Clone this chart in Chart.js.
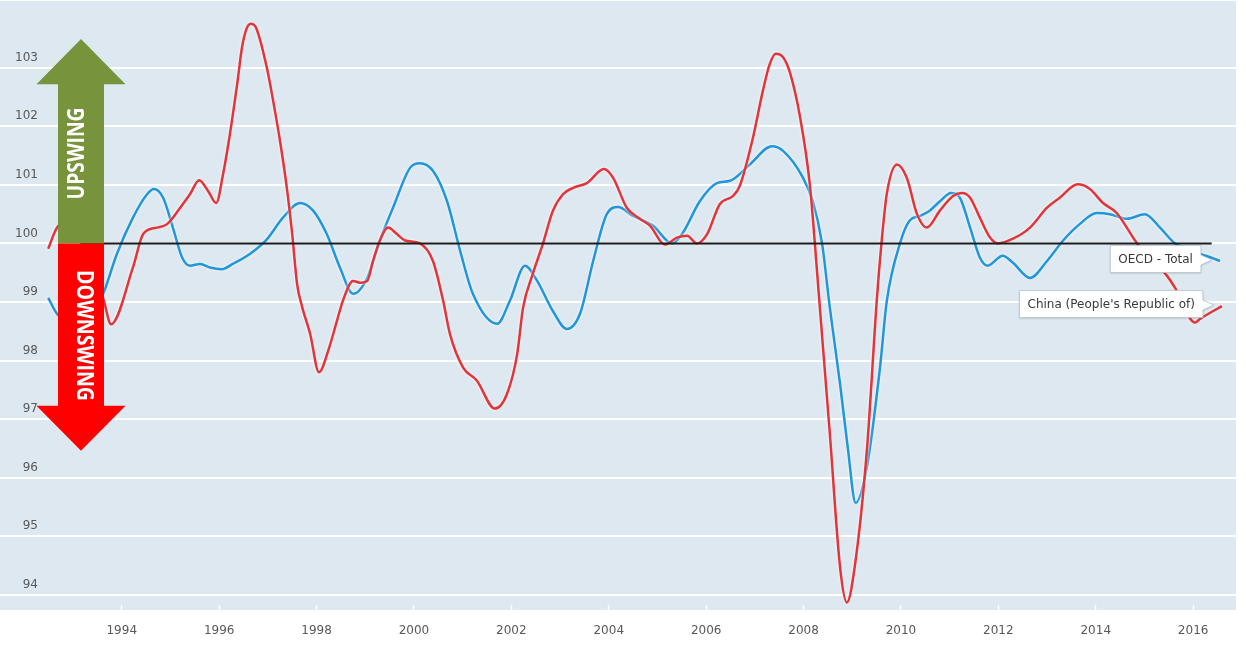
<!DOCTYPE html>
<html>
<head>
<meta charset="utf-8">
<title>Composite leading indicators - OECD vs China</title>
<script src="https://cdn.jsdelivr.net/npm/chart.js@4.4.1/dist/chart.umd.min.js"></script>
<style>
  html, body { margin: 0; padding: 0; background: #fff; }
  #wrap { position: relative; width: 1246px; height: 645px; }
</style>
</head>
<body>
<div id="wrap"><canvas id="cli"></canvas></div>
<script>
/* ---------- data ---------- */
const chinaYears = [1992.49, 1992.67, 1993.0, 1993.4, 1993.64, 1993.78, 1994.23, 1994.44, 1994.72, 1994.93,
  1995.20, 1995.40, 1995.59, 1995.77, 1995.94, 1996.08, 1996.22, 1996.37, 1996.47, 1996.56,
  1996.65, 1996.76, 1996.98, 1997.11, 1997.25, 1997.39, 1997.50, 1997.60, 1997.70, 1997.87,
  1998.05, 1998.24, 1998.42, 1998.54, 1998.75, 1998.89, 1999.04, 1999.16, 1999.30, 1999.47,
  1999.65, 1999.82, 2000.12, 2000.39, 2000.60, 2000.74, 2001.01, 2001.29, 2001.66, 2001.91,
  2002.12, 2002.24, 2002.44, 2002.65, 2002.85, 2003.06, 2003.27, 2003.55, 2003.90, 2004.09,
  2004.37, 2004.64, 2004.85, 2005.15, 2005.40, 2005.61, 2005.81, 2006.02, 2006.28, 2006.55,
  2006.69, 2006.96, 2007.15, 2007.30, 2007.43, 2007.58, 2007.72, 2007.93, 2008.13, 2008.27,
  2008.34, 2008.54, 2008.75, 2008.89, 2009.05, 2009.30, 2009.51, 2009.60, 2009.71, 2009.92,
  2010.12, 2010.33, 2010.53, 2010.80, 2011.07, 2011.25, 2011.42, 2011.62, 2011.83, 2011.99,
  2012.30, 2012.65, 2013.00, 2013.26, 2013.63, 2013.88, 2014.15, 2014.43, 2014.85, 2015.46,
  2015.63, 2016.04, 2016.14, 2016.59];
const chinaValues = [99.91, 100.27, 100.45, 99.7, 99.0, 98.62, 99.59, 100.16, 100.27, 100.33,
  100.61, 100.84, 101.08, 100.9, 100.69, 101.18, 101.86, 102.72, 103.35, 103.66,
  103.75, 103.68, 103.0, 102.43, 101.75, 100.95, 100.16, 99.31, 98.93, 98.45,
  97.8, 98.17, 98.68, 99.02, 99.36, 99.33, 99.36, 99.7, 100.05, 100.27,
  100.16, 100.05, 100.0, 99.7, 99.02, 98.45, 97.88, 97.66, 97.18, 97.43,
  98.11, 98.9, 99.48, 100.0, 100.55, 100.84, 100.95, 101.03, 101.27, 101.12,
  100.61, 100.42, 100.3, 99.98, 100.1, 100.13, 100.0, 100.16, 100.67, 100.81,
  100.98, 101.8, 102.55, 103.05, 103.24, 103.18, 102.92, 102.15, 101.0, 99.6,
  98.85, 96.75, 94.47, 93.87, 94.47, 96.46, 99.1, 100.0, 100.85, 101.35,
  101.12, 100.5, 100.27, 100.56, 100.81, 100.86, 100.78, 100.44, 100.1, 100.0,
  100.08, 100.27, 100.61, 100.78, 101.01, 100.93, 100.69, 100.52, 100.0, 99.45,
  99.24, 98.65, 98.71, 98.93];

const oecdYears = [1992.49, 1992.67, 1993.1, 1993.35, 1993.62, 1993.90, 1994.23, 1994.52, 1994.66, 1994.85,
  1995.05, 1995.24, 1995.40, 1995.61, 1995.81, 1996.06, 1996.28, 1996.63, 1996.98, 1997.31,
  1997.66, 1997.93, 1998.21, 1998.48, 1998.75, 1999.04, 1999.30, 1999.57, 1999.92, 2000.12,
  2000.39, 2000.68, 2000.95, 2001.21, 2001.71, 2001.97, 2002.28, 2002.53, 2002.85, 2003.14,
  2003.41, 2003.68, 2003.96, 2004.19, 2004.50, 2004.91, 2005.30, 2005.52, 2005.87, 2006.22,
  2006.49, 2006.90, 2007.35, 2007.58, 2007.99, 2008.19, 2008.38, 2008.54, 2008.75, 2008.91,
  2009.07, 2009.30, 2009.57, 2009.71, 2009.98, 2010.18, 2010.39, 2010.59, 2010.80, 2011.03,
  2011.21, 2011.42, 2011.62, 2011.78, 2012.09, 2012.30, 2012.65, 2013.00, 2013.33, 2013.67,
  2014.02, 2014.29, 2014.64, 2015.01, 2015.32, 2015.63, 2016.40, 2016.55];
const oecdValues = [99.07, 98.8, 98.55, 98.7, 99.14, 99.82, 100.44, 100.84, 100.93, 100.78,
  100.27, 99.76, 99.62, 99.65, 99.59, 99.56, 99.65, 99.82, 100.07, 100.44,
  100.69, 100.56, 100.16, 99.59, 99.14, 99.41, 100.05, 100.61, 101.29, 101.37,
  101.24, 100.72, 99.87, 99.14, 98.63, 99.02, 99.62, 99.36, 98.85, 98.54,
  98.8, 99.7, 100.5, 100.62, 100.47, 100.3, 100.0, 100.18, 100.72, 101.03,
  101.07, 101.35, 101.66, 101.58, 101.12, 100.72, 100.0, 98.9, 97.6, 96.5,
  95.57, 96.18, 97.88, 99.02, 100.0, 100.39, 100.47, 100.56, 100.72, 100.86,
  100.78, 100.27, 99.76, 99.62, 99.79, 99.67, 99.41, 99.7, 100.05, 100.33,
  100.52, 100.5, 100.42, 100.5, 100.27, 100.0, 99.75, 99.7];

const baselineYears = [1993.15, 2016.38];
const baselineValues = [100, 100];

const yearTicks = [1994, 1996, 1998, 2000, 2002, 2004, 2006, 2008, 2010, 2012, 2014, 2016];
const valueTicks = [94, 95, 96, 97, 98, 99, 100, 101, 102, 103];

const chinaName = "China (People's Republic of)";
const oecdName = "OECD - Total";

function toPoints(xs, ys) {
  return xs.map((x, i) => ({ x: x, y: ys[i] }));
}

/* ---------- plugins ---------- */
const plotBackground = {
  id: "plotBackground",
  beforeDraw(chart) {
    const { ctx, chartArea: a } = chart;
    ctx.save();
    ctx.fillStyle = "#dde8f0";
    ctx.fillRect(a.left, a.top, a.right - a.left, a.bottom - a.top);
    ctx.restore();
  }
};

// thin light halo round the two series lines
const lineHalo = {
  id: "lineHalo",
  beforeDatasetDraw(chart, args) {
    const ctx = chart.ctx;
    ctx.save();
    if (args.index < 2) {
      ctx.shadowColor = "rgba(255,255,255,0.95)";
      ctx.shadowBlur = 3;
    }
  },
  afterDatasetDraw(chart) {
    chart.ctx.restore();
  }
};

function fitText(ctx, text, x, y, angle, length) {
  ctx.save();
  ctx.translate(x, y);
  ctx.rotate(angle);
  const w = ctx.measureText(text).width;
  ctx.scale(length / w, 1);
  ctx.textAlign = "center";
  ctx.textBaseline = "alphabetic";
  ctx.fillText(text, 0, 0);
  ctx.restore();
}

const swingArrows = {
  id: "swingArrows",
  afterDatasetsDraw(chart) {
    const { ctx, chartArea: a, scales: { y } } = chart;
    const cx = a.left + 81;
    const shaft = 23, head = 44.5;
    const mid = y.getPixelForValue(100);
    const upBase = y.getPixelForValue(102.72);
    const upTip = y.getPixelForValue(103.49);
    const downBase = y.getPixelForValue(97.23);
    const downTip = y.getPixelForValue(96.46);

    ctx.save();
    ctx.fillStyle = "#77933c";
    ctx.beginPath();
    ctx.moveTo(cx - shaft, mid);
    ctx.lineTo(cx - shaft, upBase);
    ctx.lineTo(cx - head, upBase);
    ctx.lineTo(cx, upTip);
    ctx.lineTo(cx + head, upBase);
    ctx.lineTo(cx + shaft, upBase);
    ctx.lineTo(cx + shaft, mid);
    ctx.closePath();
    ctx.fill();

    ctx.fillStyle = "#ff0000";
    ctx.beginPath();
    ctx.moveTo(cx - shaft, mid);
    ctx.lineTo(cx - shaft, downBase);
    ctx.lineTo(cx - head, downBase);
    ctx.lineTo(cx, downTip);
    ctx.lineTo(cx + head, downBase);
    ctx.lineTo(cx + shaft, downBase);
    ctx.lineTo(cx + shaft, mid);
    ctx.closePath();
    ctx.fill();

    ctx.fillStyle = "#ffffff";
    ctx.font = 'bold 24px "Open Sans"';
    fitText(ctx, "UPSWING", cx + 3, mid - 90, -Math.PI / 2, 92);
    fitText(ctx, "DOWNSWING", cx - 4, mid + 92, Math.PI / 2, 131);
    ctx.restore();
  }
};

// white callout boxes at the end of each series
const endLabels = {
  id: "endLabels",
  afterDatasetsDraw(chart) {
    const ctx = chart.ctx;
    [0, 1].forEach(i => {
      const meta = chart.getDatasetMeta(i);
      const last = meta.data[meta.data.length - 1];
      const text = chart.data.datasets[i].label;
      ctx.save();
      ctx.font = '12px "DejaVu Sans"';
      const tw = ctx.measureText(text).width;
      const h = 27, w = tw + 16;
      const right = last.x - 19;
      const left = right - w;
      const top = last.y - h / 2 - 2;
      ctx.beginPath();
      ctx.moveTo(left, top);
      ctx.lineTo(right, top);
      ctx.lineTo(right, last.y - 6);
      ctx.lineTo(last.x - 8, last.y - 1);
      ctx.lineTo(right, last.y + 4);
      ctx.lineTo(right, top + h);
      ctx.lineTo(left, top + h);
      ctx.closePath();
      ctx.shadowColor = "rgba(0,0,0,0.18)";
      ctx.shadowBlur = 2;
      ctx.shadowOffsetY = 1;
      ctx.fillStyle = "#ffffff";
      ctx.fill();
      ctx.shadowColor = "transparent";
      ctx.strokeStyle = "rgba(180,195,205,0.8)";
      ctx.lineWidth = 1;
      ctx.stroke();
      ctx.fillStyle = "#3a3a3a";
      ctx.textAlign = "center";
      ctx.textBaseline = "middle";
      ctx.fillText(text, left + w / 2, top + h / 2 + 1);
      ctx.restore();
    });
  }
};

/* ---------- chart ---------- */
document.addEventListener("DOMContentLoaded", () => {
  const ctx = document.getElementById("cli").getContext("2d");
  new Chart(ctx, {
    type: "line",
    data: {
      datasets: [
        {
          label: chinaName,
          data: toPoints(chinaYears, chinaValues),
          borderColor: "#e3343a",
          borderWidth: 2.5,
          pointRadius: 0,
          cubicInterpolationMode: "monotone",
          order: 1
        },
        {
          label: oecdName,
          data: toPoints(oecdYears, oecdValues),
          borderColor: "#2196db",
          borderWidth: 2.5,
          pointRadius: 0,
          cubicInterpolationMode: "monotone",
          order: 2
        },
        {
          label: "baseline",
          data: toPoints(baselineYears, baselineValues),
          borderColor: "#1c1c1c",
          borderWidth: 2,
          pointRadius: 0,
          order: 0
        }
      ]
    },
    options: {
      responsive: true,
      maintainAspectRatio: false,
      animation: false,
      layout: { padding: { left: 0, right: 10, top: 1, bottom: 0 } },
      plugins: {
        legend: { display: false },
        tooltip: { enabled: false }
      },
      scales: {
        x: {
          type: "linear",
          min: 1991.5,
          max: 2016.88,
          afterBuildTicks(scale) {
            scale.ticks = yearTicks.map(v => ({ value: v }));
          },
          afterFit(scale) {
            scale.height = 35;
            scale.paddingLeft = 0;
            scale.paddingRight = 0;
          },
          border: { display: false },
          grid: {
            drawOnChartArea: false,
            drawTicks: true,
            tickLength: -5,
            tickColor: "#ffffff",
            tickWidth: 1.5
          },
          ticks: {
            autoSkip: false,
            maxRotation: 0,
            padding: 19,
            color: "#595959",
            font: { family: "DejaVu Sans", size: 12 },
            callback: v => String(v)
          }
        },
        y: {
          min: 93.74,
          max: 104.14,
          afterBuildTicks(scale) {
            scale.ticks = valueTicks.map(v => ({ value: v }));
          },
          afterFit(scale) {
            scale.width = 0;
            scale.paddingTop = 0;
            scale.paddingBottom = 0;
          },
          border: { display: false },
          grid: {
            color: "#ffffff",
            lineWidth: 2,
            drawTicks: false
          },
          ticks: {
            mirror: true,
            crossAlign: "far",
            padding: 15,
            labelOffset: -10,
            color: "#595959",
            font: { family: "DejaVu Sans", size: 12 },
            callback: v => String(v)
          }
        }
      }
    },
    plugins: [plotBackground, lineHalo, swingArrows, endLabels]
  });
});
</script>
</body>
</html>
